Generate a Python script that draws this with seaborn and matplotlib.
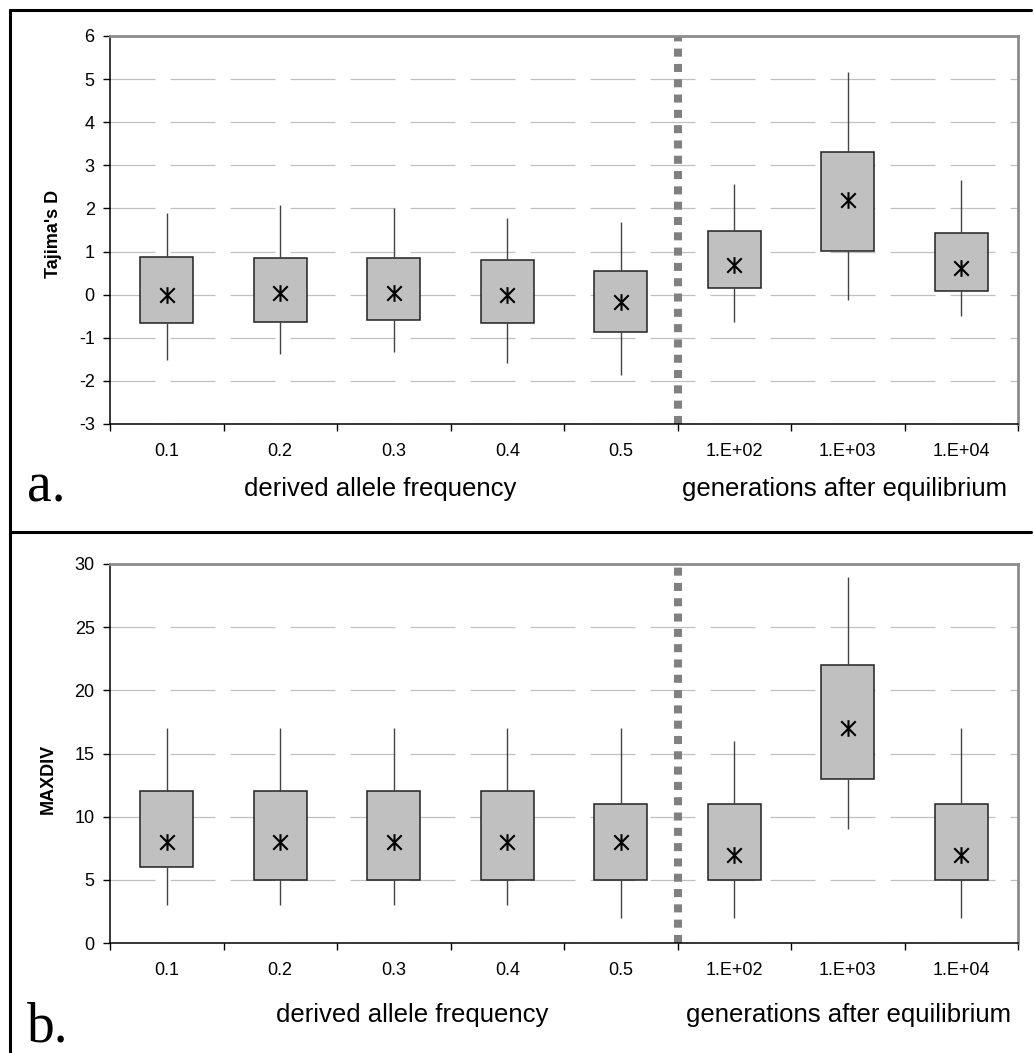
import numpy as np
import pandas as pd
import matplotlib
matplotlib.use("Agg")
import matplotlib.pyplot as plt
from matplotlib.lines import Line2D
from matplotlib.path import Path
import seaborn as sns

# ---------------- data ----------------
categories = ["0.1", "0.2", "0.3", "0.4", "0.5", "1.E+02", "1.E+03", "1.E+04"]

# panel a: Tajima's D
taj_low  = [-1.51, -1.37, -1.33, -1.59, -1.87, -0.63, -0.12, -0.50]
taj_q1   = [-0.66, -0.63, -0.58, -0.66, -0.87, 0.15, 1.02, 0.09]
taj_mid  = [0.00, 0.05, 0.05, 0.00, -0.16, 0.68, 2.19, 0.62]
taj_q3   = [0.88, 0.84, 0.84, 0.80, 0.55, 1.48, 3.31, 1.44]
taj_high = [1.90, 2.07, 2.02, 1.77, 1.69, 2.57, 5.17, 2.65]

# panel b: MAXDIV
mx_low  = [3, 3, 3, 3, 2, 2, 9, 2]
mx_q1   = [6, 5, 5, 5, 5, 5, 13, 5]
mx_mid  = [8, 8, 8, 8, 8, 7, 17, 7]
mx_q3   = [12, 12, 12, 12, 11, 11, 22, 11]
mx_high = [17, 17, 17, 17, 17, 16, 29, 17]

taj_ticks = list(range(-3, 7))
mx_ticks = list(range(0, 31, 5))

xlabel_left = "derived allele frequency"
xlabel_right = "generations after equilibrium"

# Excel-style star marker: an X with a vertical bar
STAR = Path([(-1, -1), (1, 1), (-1, 1), (1, -1), (0, -1.15), (0, 1.15)],
            [Path.MOVETO, Path.LINETO, Path.MOVETO, Path.LINETO,
             Path.MOVETO, Path.LINETO])


def long_frame(low, q1, mid, q3, high):
    rows = []
    for c, a, b, m, d, e in zip(categories, low, q1, mid, q3, high):
        for v in (a, b, m, d, e):
            rows.append({"cat": c, "val": v})
    return pd.DataFrame(rows)


sns.set_theme(style="white")
plt.rcParams["font.family"] = ["Liberation Sans", "DejaVu Sans"]
plt.rcParams["text.color"] = "black"
plt.rcParams["axes.labelcolor"] = "black"
plt.rcParams["xtick.color"] = "black"
plt.rcParams["ytick.color"] = "black"

W, H = 1034, 1053
fig = plt.figure(figsize=(W / 100, H / 100), dpi=100)


def fx(px):
    return px / W


def fy(py):
    return 1 - py / H


def draw_panel(rect, low, q1, mid, q3, high, yticks, ylabel, ylab_pos,
               letter, letter_pos, xl_left_pos, xl_right_pos):
    ax = fig.add_axes(rect)
    df = long_frame(low, q1, mid, q3, high)
    sns.boxplot(data=df, x="cat", y="val", order=categories, ax=ax,
                whis=(0, 100), width=0.47, color="#C0C0C0", saturation=1,
                linecolor="#222222", linewidth=1.1, showcaps=False,
                showfliers=False,
                medianprops={"visible": False},
                whiskerprops={"color": "#444444", "linewidth": 1.0})
    sns.pointplot(x=categories, y=mid, order=categories, ax=ax,
                  errorbar=None, linestyle="none", marker=STAR,
                  markersize=12, markeredgewidth=1.5, color="black",
                  markerfacecolor="none")
    ax.set_xlim(-0.5, len(categories) - 0.5)
    ax.set_ylim(yticks[0], yticks[-1])
    ax.set_yticks(yticks)
    ax.set_yticklabels([str(t) for t in yticks], fontsize=13)
    ax.set_xticks(np.arange(-0.5, len(categories), 1.0))
    ax.set_xticklabels([])
    ax.set_xticks(np.arange(len(categories)), labels=categories, minor=True)
    ax.tick_params(axis="x", which="major", direction="out", length=5,
                   width=1, color="black", bottom=True)
    ax.tick_params(axis="x", which="minor", length=0, pad=14,
                   labelsize=13, bottom=True, labelcolor="black")
    ax.tick_params(axis="y", direction="out", length=5, width=1,
                   color="black", pad=6, left=True, labelcolor="black")
    ax.set_xlabel("")
    ax.set_ylabel("")
    ax.grid(axis="y", color="#C0C0C0", linewidth=0.9,
            linestyle=(0, (36, 12)))
    ax.grid(axis="x", visible=False)
    ax.set_axisbelow(True)
    for s in ("left", "bottom"):
        ax.spines[s].set_color("black")
        ax.spines[s].set_linewidth(1.1)
    for s in ("top", "right"):
        ax.spines[s].set_color("#8C8C8C")
        ax.spines[s].set_linewidth(2)
    ax.axvline(4.5, color="#808080", linewidth=5.8,
               linestyle=(0, (1.0, 0.9)), zorder=1)
    fig.text(fx(ylab_pos[0]), fy(ylab_pos[1]), ylabel, rotation=90,
             ha="center", va="center", fontsize=13, fontweight="bold",
             color="black")
    fig.text(fx(letter_pos[0]), fy(letter_pos[1]), letter,
             family=["Liberation Serif", "DejaVu Serif"], fontsize=40,
             ha="left", va="baseline", color="black")
    fig.text(fx(xl_left_pos[0]), fy(xl_left_pos[1]), xlabel_left,
             ha="center", va="center", fontsize=18.5, color="black")
    fig.text(fx(xl_right_pos[0]), fy(xl_right_pos[1]), xlabel_right,
             ha="center", va="center", fontsize=18.5, color="black")
    return ax


ax_a = draw_panel([fx(110), fy(424), fx(1018 - 110), (424 - 36) / H],
                  taj_low, taj_q1, taj_mid, taj_q3, taj_high, taj_ticks,
                  "Tajima's D", (54, 234), "a.", (27, 502),
                  (380, 489), (845, 489))
ax_b = draw_panel([fx(110), fy(943), fx(1018 - 110), (943 - 564) / H],
                  mx_low, mx_q1, mx_mid, mx_q3, mx_high, mx_ticks,
                  "MAXDIV", (48, 779), "b.", (27, 1042),
                  (412, 1015), (849, 1015))

# outer frame lines
frame_kw = dict(color="black", linewidth=2.2, transform=fig.transFigure)
fig.add_artist(Line2D([fx(10), fx(1031)], [fy(10), fy(10)], **frame_kw))
fig.add_artist(Line2D([fx(10), fx(1031)], [fy(532), fy(532)], **frame_kw))
fig.add_artist(Line2D([fx(10), fx(10)], [fy(10), fy(1053)], **frame_kw))

fig.savefig("out.png", dpi=100, facecolor="white")
